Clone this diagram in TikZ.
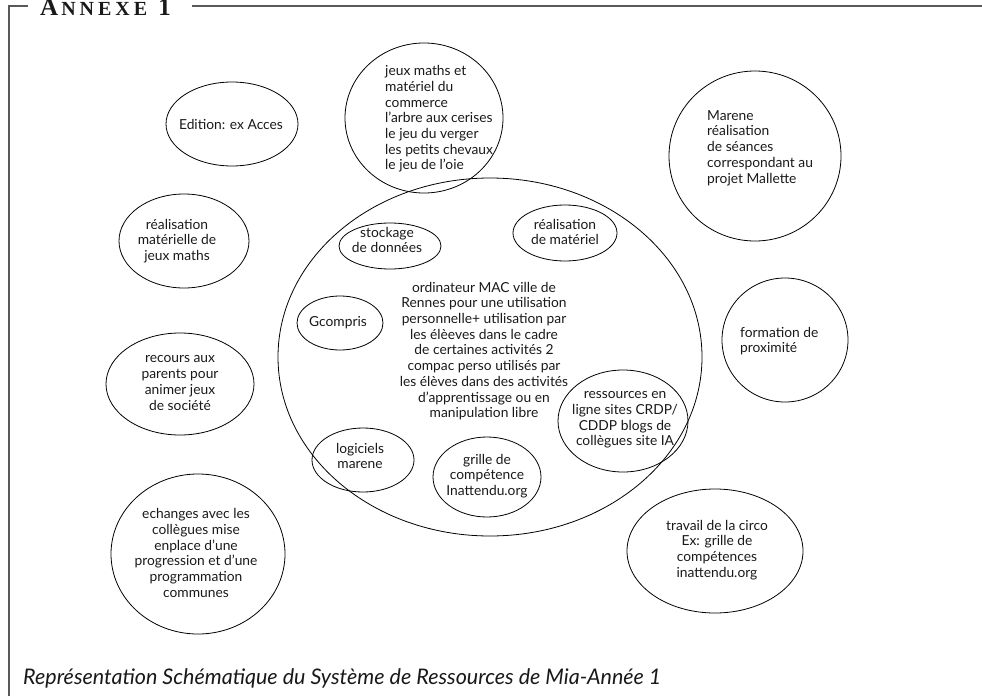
\documentclass[tikz,border=0pt]{standalone}
\usepackage{fontspec}
\setmainfont{Lato}
\newfontfamily\annexefont{Liberation Serif}
\usetikzlibrary{shapes.geometric}
\begin{document}
\begin{tikzpicture}[x=1pt,y=-1pt,
  ell/.style={draw=black, line width=0.8pt, ellipse, inner sep=0pt},
  txt/.style={inner sep=0pt, font=\fontsize{13.8}{15.7}\selectfont, align=center, text=black!90},
  ltxt/.style={txt, align=left},
  frame/.style={draw=black!65, line width=1.5pt}]
\useasboundingbox (0,0) rectangle (982,696);
% frame
\draw[frame] (9,696) -- (9,6) -- (28,6);
\draw[frame] (192,6) -- (982,6);
\node[anchor=base west, inner sep=0pt, font=\annexefont\bfseries, text=black!90] (annexe) at (40,15) {\fontsize{25}{25}\selectfont A\kern3pt\fontsize{20}{20}\selectfont N\kern4pt N\kern4pt E\kern4pt X\kern4pt E\kern11pt\fontsize{25}{25}\selectfont 1};
% ellipses
\node[ell, minimum width=132pt, minimum height=84pt] (eEdition) at (232,124) {};
\node[ell, minimum width=158pt, minimum height=150pt] (eJeux) at (424,118) {};
\node[ell, minimum width=424pt, minimum height=358pt] (eBig) at (490,357) {};
\node[ell, minimum width=102pt, minimum height=46pt] (eStock) at (390,246) {};
\node[ell, minimum width=104pt, minimum height=56pt] (eRealMat) at (565,233) {};
\node[ell, minimum width=86pt, minimum height=54pt] (eGcomp) at (340,323) {};
\node[ell, minimum width=130pt, minimum height=102pt] (eRess) at (623,421) {};
\node[ell, minimum width=102pt, minimum height=64pt] (eLog) at (363,460) {};
\node[ell, minimum width=108pt, minimum height=80pt] (eGrille) at (487,477) {};
\node[ell, minimum width=130pt, minimum height=94pt] (eRealJeux) at (184,241) {};
\node[ell, minimum width=148pt, minimum height=102pt] (eRecours) at (180,384) {};
\node[ell, minimum width=174pt, minimum height=160pt] (eEch) at (198,554) {};
\node[ell, minimum width=172pt, minimum height=170pt] (eMarene) at (755,156) {};
\node[ell, minimum width=126pt, minimum height=124pt] (eForm) at (785,340) {};
\node[ell, minimum width=176pt, minimum height=124pt] (eTrav) at (715,551) {};
% texts
\node[txt] (tEdition) at (231,124) {Edition: ex Acces};
\node[ltxt, anchor=west] (tJeux) at (385,119) {jeux maths et\\mat\'eriel du\\commerce\\l'arbre aux cerises\\le jeu du verger\\les petits chevaux\\le jeu de l'oie};
\node[txt] (tBig) at (484,351) {ordinateur MAC ville de\\Rennes pour une utilisation\\personnelle+ utilisation par\\les \'el\`eeves dans le cadre\\de certaines activit\'es 2\\compac perso utilis\'es par\\les \'el\`eves dans des activit\'es\\d'apprentissage ou en\\manipulation libre};
\node[txt] (tStock) at (387,240) {stockage\\de donn\'ees};
\node[txt] (tRealMat) at (565,232) {r\'ealisation\\de mat\'eriel};
\node[txt] (tGcomp) at (338,323) {Gcompris};
\node[txt] (tRess) at (625,420) {ressources en\\ligne sites CRDP/\\CDDP blogs de\\coll\`egues site IA};
\node[txt] (tLog) at (360,456) {logiciels\\marene};
\node[txt] (tGrille) at (487,476) {grille de\\comp\'etence\\Inattendu.org};
\node[txt] (tRealJeux) at (177,241) {r\'ealisation\\mat\'erielle de\\jeux maths};
\node[txt] (tRecours) at (180,383) {recours aux\\parents pour\\animer jeux\\de soci\'et\'e};
\node[txt] (tEch) at (196,553) {echanges avec les\\coll\`egues mise\\enplace d'une\\progression et d'une\\programmation\\communes};
\node[ltxt, anchor=west] (tMarene) at (707,148) {Marene\\r\'ealisation\\de s\'eances\\correspondant au\\projet Mallette};
\node[ltxt, anchor=west] (tForm) at (740,341) {formation de\\proximit\'e};
\node[txt] (tTrav) at (717,550) {travail de la circo\\Ex: grille de\\comp\'etences\\inattendu.org};
% caption
\node[anchor=base west, inner sep=0pt, font=\itshape\fontsize{21.5}{21.5}\selectfont, text=black!90] (caption) at (23,684) {Repr\'esentation Sch\'ematique du Syst\`eme de Ressources de Mia-Ann\'ee 1};
\end{tikzpicture}
\end{document}
